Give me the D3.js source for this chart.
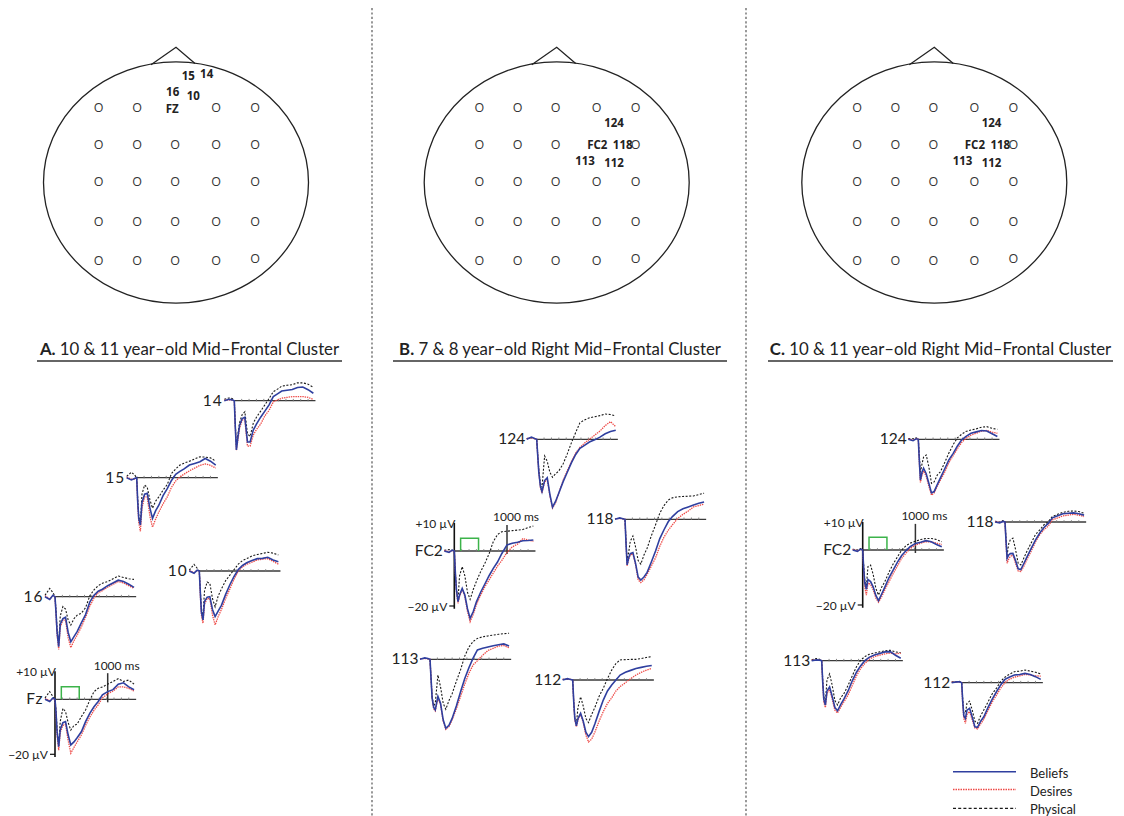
<!DOCTYPE html>
<html>
<head>
<meta charset="utf-8">
<script src="https://cdn.jsdelivr.net/npm/d3@7"></script>
<style>
  html, body { margin: 0; padding: 0; background: #fff; }
  svg { display: block; }
</style>
</head>
<body>
<svg id="fig" width="1124" height="816"></svg>
<script>
// ---------------------------------------------------------------
// ERP data: grand-average amplitudes (µV) at these sample times (ms)
// ---------------------------------------------------------------
const timesMs = [-190, -100, -40, 0, 20, 40, 70, 100, 150, 200, 250, 300, 360, 420,
                 500, 580, 660, 740, 820, 900, 1000, 1100, 1200, 1300, 1400, 1500];

const conditions = ["Beliefs", "Desires", "Physical"];
const panelLetters = ["A.", "B.", "C."];
const panelTitles = ["10 & 11 year–old Mid–Frontal Cluster",
                     "7 & 8 year–old Right Mid–Frontal Cluster",
                     "10 & 11 year–old Right Mid–Frontal Cluster"];
const panelAElectrodes = ["14", "15", "16", "10", "Fz"];
const panelBElectrodes = ["124", "118", "FC2", "113", "112"];
const panelCElectrodes = ["124", "118", "FC2", "113", "112"];
const headLabelsA = ["15", "14", "16", "10", "FZ"];
const headLabelsBC = ["124", "FC2", "118", "113", "112"];
const axisLabels = ["+10 µV", "−20 µV", "1000 ms"];

// Panel A — 10 & 11 year-olds, mid-frontal
const a14Beliefs  = [0, 0.5, 0.3, 0, -10, -17.9, -13, -9, -6.5, -6, -15, -15, -10.7, -8.5, -6, -3.8, -1.5, 1.5, 2.5, 3.5, 3.8, 4.1, 4.8, 5, 4, 2.7];
const a14Desires  = [0.2, 0.3, 0.2, 0, -10, -18, -14, -10, -7, -7, -16.5, -16.5, -12.5, -10.5, -8.5, -5.5, -3.5, -0.4, 0.3, 0.9, 1.2, 1.5, 1.5, 1.5, 1.2, 0.5];
const a14Physical = [0.5, 1, 0.8, 0, -9, -17, -12, -8, -5, -4, -12, -13, -8.2, -6, -3.8, -1.5, 0.8, 3.3, 4.2, 5.3, 5.6, 5.8, 6.5, 6.5, 6, 4.9];

const a15Beliefs  = [0, -0.8, -0.3, 0, -9, -15, -17.2, -9, -6, -5.7, -11, -14.8, -12, -10, -6.5, -4, -1, 1.2, 2.3, 3.2, 4.6, 5.2, 5.8, 7, 6, 4.6];
const a15Desires  = [0.2, -0.5, -0.5, 0, -10, -16.5, -19.5, -11, -7, -7, -14, -18, -15, -12.5, -9.5, -7, -3.5, -1.2, 0.3, 1.3, 2.5, 3.5, 4.5, 5, 4.5, 3.5];
const a15Physical = [0.5, 2, 1, 0, -8, -14, -17, -6, -2.7, -3.5, -8, -11.1, -8.5, -7, -4.5, -2.5, 1.5, 3.2, 4.6, 5.3, 6, 6.8, 7.6, 7.5, 7.2, 6];

const a16Beliefs  = [0, -1, 0.5, 0, -6, -13, -18.2, -10, -8, -7.5, -13, -16.4, -14.5, -12.7, -9.5, -6.5, -2, 0.5, 2, 2.7, 4, 5, 6, 5.5, 4.5, 3.4];
const a16Desires  = [0.3, -0.8, 0.3, 0, -7, -14, -19.2, -11, -8.5, -8.5, -15, -18.5, -16, -14, -11, -7.5, -3.5, -0.5, 1.5, 2.2, 3.5, 4.5, 5.5, 5, 4, 3];
const a16Physical = [0.5, 3, 1.5, 0, -5, -12, -17, -7, -3.6, -4.5, -8.5, -10.3, -8, -6.7, -6, -4, 0.3, 2.5, 4, 4.9, 5.5, 6.5, 7.5, 7, 6.5, 6.3];

const a10Beliefs  = [0, -0.8, 0.3, 0, -8, -15, -17.8, -11, -9.5, -9.3, -14, -16.6, -14.5, -12.5, -8.5, -5, -2, 0.5, 2, 3, 3.8, 4.5, 4.6, 5, 4, 3.4];
const a10Desires  = [0.2, -0.6, 0.2, 0, -9, -16, -19, -12, -10, -10, -16, -19.6, -16.5, -14, -10, -6.5, -3, 0, 1.5, 2.5, 3.2, 4, 4.3, 4.5, 3.5, 2.5];
const a10Physical = [0.3, 2.4, 1, 0, -7, -14, -16, -7, -4, -4.5, -10, -13, -9, -6.5, -3.5, -1.5, 0.5, 2.5, 3.8, 4.5, 5.5, 6, 6.4, 6.8, 6.5, 5.8];

const aFzBeliefs  = [0, -0.8, 0.5, 0, -5, -12, -17.2, -11, -8.5, -8.1, -13, -16.6, -15.5, -14, -11.8, -8.1, -5.1, -2.7, -0.8, 1.6, 2.8, 3.5, 5.5, 6, 4.5, 3.5];
const aFzDesires  = [0.3, -0.5, 0.3, 0, -6, -13, -18.5, -12, -9.5, -9, -15, -19.6, -17.5, -15.5, -13, -9.5, -6.5, -4, -2, 0.5, 2, 3, 4.5, 4.5, 4, 3];
const aFzPhysical = [0.5, 2.8, 1, 0, -4, -11, -16.5, -8, -3.3, -4.5, -8.5, -11.2, -9.5, -9, -6.3, -3.9, -0.3, 2.8, 4, 4.5, 5.5, 6.5, 7.5, 6.5, 7, 5.5];

// Panel B — 7 & 8 year-olds, right mid-frontal
const b124Beliefs  = [0, 0.8, 0.3, 0, -6, -12, -17, -19, -15, -14, -20, -24.7, -22.5, -19.5, -15.5, -12, -8.5, -5.5, -3.3, -2.3, -1, -0.2, 0.8, 2, 2.8, 3.3];
const b124Desires  = [0.2, 0.5, 0.2, 0, -6, -12, -17.5, -19.5, -15.5, -14.5, -20.5, -25, -23, -19.5, -15, -11.5, -8, -5, -3, -1.5, 0, 1.5, 3, 5, 6.4, 4.6];
const b124Physical = [0.3, 0.5, 0.3, 0, -6, -11, -16, -17.5, -6.1, -8, -12, -13.8, -12.5, -11.5, -9, -5.3, -1.2, 2.5, 6, 7, 7.8, 8.2, 8.6, 9.2, 9, 8.5];

const b118Beliefs  = [0, 0.5, 0.2, 0, -9, -16.6, -14, -12.5, -12.1, -16, -21, -22.1, -21, -19.3, -15.5, -11.5, -7, -3.8, -0.9, 1, 2.8, 3.8, 4.5, 5.2, 5.8, 6.3];
const b118Desires  = [0.2, 0.3, 0.2, 0, -9, -17, -14.5, -13, -12.5, -16.5, -22, -23, -22, -20, -17, -14, -9.8, -6.5, -4, -2, 0.3, 1.8, 3, 4.5, 5, 5.5];
const b118Physical = [0.3, 0.3, 0.2, 0, -8, -15, -12, -8, -6.1, -10, -15, -16.3, -13, -10.5, -6, -2, 2.2, 5, 7, 7.8, 8.2, 8.3, 8.4, 8.5, 9, 9.5];

const bFc2Beliefs  = [0, -0.5, 0.3, 0, -8, -14, -18.4, -16, -13.6, -16, -21, -24.5, -22, -18.5, -15, -12, -9, -6.3, -4, -1, 2.2, 2.8, 3.2, 3.7, 3.8, 4];
const bFc2Desires  = [0.2, -0.3, 0.2, 0, -8, -14.5, -19, -16.5, -14, -16.5, -22, -25.7, -23, -19.5, -16, -13, -10.5, -8, -5.5, -3.5, -0.5, 1.5, 2.5, 4.5, 4, 3.5];
const bFc2Physical = [0.3, 0.5, 0.3, 0, -8, -14, -17.8, -9, -5.7, -9, -15, -17.6, -14, -11, -7.5, -4.5, -1, 3.4, 6, 7, 7.2, 7.4, 7.6, 7.8, 8.5, 9.1];

const b113Beliefs  = [0, 0.5, 0.3, 0, -7, -14, -17.5, -18.4, -13.5, -16, -22, -25.1, -24, -21.5, -17, -11.8, -7, -3, 0.5, 3.4, 4, 4.5, 4.9, 5.3, 5.6, 4.8];
const b113Desires  = [0.2, 0.3, 0.2, 0, -7, -14, -18, -18.8, -14, -16.5, -22.5, -25.5, -24.5, -22, -18, -13.5, -9, -5, -2, -0.5, 1.5, 3.2, 4, 4.8, 5, 4.2];
const b113Physical = [0.3, 0.3, 0.2, 0, -7, -13.5, -17, -16, -5.7, -10, -16, -18.2, -15, -12.5, -8, -3.8, 1.2, 4.5, 6.5, 7.6, 8.2, 8.5, 8.8, 9.1, 9.3, 9.5];

const b112Beliefs  = [0, 0.5, 0.2, 0, -8, -14, -16.7, -14, -12.1, -15, -19, -20.6, -19, -16, -11.5, -7.3, -4, -1.8, 0, 1.8, 2.8, 3.5, 4.2, 4.6, 5, 5.3];
const b112Desires  = [0.2, 0.3, 0.2, 0, -8, -14.5, -17, -14.5, -12.5, -15.5, -20, -22.5, -21.5, -19, -15, -11.5, -8.5, -6.5, -4, -2.4, -1, 0.5, 1.8, 2.8, 3.6, 4.2];
const b112Physical = [0.3, 0.3, 0.2, 0, -8, -14, -16, -10, -6.1, -9.5, -14, -15.5, -12.5, -10, -6, -3, 0.5, 3.6, 6, 7.3, 7.4, 7.5, 7.5, 7.8, 8.2, 8.5];

// Panel C — 10 & 11 year-olds, right mid-frontal
const c124Beliefs  = [0, -0.5, 0.2, 0, -8, -14.8, -12, -10.5, -12.5, -16, -19.5, -19, -16.5, -14, -10.8, -7.5, -5.2, -2.5, -0.3, 1, 2.2, 2.7, 3.2, 3, 2, 1];
const c124Desires  = [0.2, -0.3, 0.2, 0, -8.5, -15.7, -13, -11.5, -13.5, -17, -20.3, -19.5, -17, -14.8, -12, -8.5, -6, -3.5, -1.2, 0.3, 1.5, 2.2, 3, 3.2, 2.6, 2.2];
const c124Physical = [0.3, 0.2, 0.5, 0, -6, -12, -9, -6.5, -5.7, -10, -16, -15.5, -13, -11.8, -8.5, -5, -2, 0.5, 1.8, 2.8, 3.4, 3.8, 4.4, 4.6, 4, 3.6];

const c118Beliefs  = [0, -0.3, 0.2, 0, -7, -13.2, -12, -11.5, -11.4, -14, -17, -17.3, -15, -12.6, -9.5, -6.5, -4, -2, -0.5, 1.5, 2.3, 3, 3.2, 3.3, 3, 2.5];
const c118Desires  = [0.2, -0.2, 0.2, 0, -8, -15, -13.5, -12.5, -12, -15, -17.8, -18, -16, -13.5, -10.5, -7.2, -4.6, -2.8, -1.5, 0.8, 1.5, 2.2, 2.5, 2.8, 2.5, 2];
const c118Physical = [0.3, 0, 0.5, 0, -6, -12, -8, -6.5, -5.9, -10, -15, -15.6, -13, -10.5, -7.5, -4.5, -2.9, -1, 0.1, 2, 2.8, 3.5, 3.9, 4, 3.8, 3.2];

const cFc2Beliefs  = [0, -0.5, 0.3, 0, -7, -12, -14.3, -10.7, -11.5, -13.5, -16.5, -18.4, -16, -13.5, -10, -7.2, -4.4, -2, -0.3, 1.2, 2.4, 2.8, 3.4, 3, 2, 1.2];
const cFc2Desires  = [0.2, -0.3, 0.2, 0, -8, -13.5, -16.4, -12, -12.5, -14.5, -17.5, -19, -17, -14.5, -11.5, -8.5, -5.8, -3, -1.2, 0.5, 1.8, 2.5, 3, 3, 2.5, 2];
const cFc2Physical = [0.3, 0, 0.5, 0, -6, -11, -13, -6, -5.5, -9, -14, -16.4, -13.5, -11.5, -8, -5, -2.5, 0, 1.5, 2.5, 3.2, 3.8, 4.2, 4.2, 3.8, 3];

const c113Beliefs  = [0, 0.3, 0.2, 0, -8, -14, -16.1, -11, -9.5, -13, -17, -18.2, -16, -14, -11, -7.3, -4.2, -1.8, 0, 1.2, 2.1, 2.6, 3.2, 3.3, 2, 0.9];
const c113Desires  = [0.2, 0.2, 0.2, 0, -8.5, -15, -17, -12, -10.5, -14, -18, -19, -17, -15, -12.5, -9, -5.5, -2.8, -1, 0.5, 1.5, 2, 2.5, 2.8, 2.5, 2.7];
const c113Physical = [0.3, 0.8, 0.5, 0, -7, -13, -15, -7, -4.8, -9, -14.5, -16.1, -13.5, -12, -9, -5.5, -2.2, 0.2, 1.5, 2.3, 2.8, 3.2, 3.6, 3.8, 3.2, 2.9];

const c112Beliefs  = [0, 0.3, 0.3, 0, -7, -12, -13, -10, -9.3, -12.5, -16, -16.2, -14, -12.4, -9, -6, -3.3, -0.8, 1.2, 2, 2.8, 3, 3.4, 3, 2.2, 1.2];
const c112Desires  = [0.2, 0.2, 0.2, 0, -8, -13, -14.8, -11.5, -10.5, -13.5, -16.5, -16.8, -15, -13.3, -10, -7, -4.5, -2, 0, 1.2, 2, 2.5, 3, 2.8, 2.5, 2.4];
const c112Physical = [0.3, 0.3, 0.5, 0, -6, -11, -11, -7.5, -6.7, -10, -14, -14.8, -12, -9.9, -7, -4, -2, 0.5, 2, 3, 4, 4.2, 4.6, 4.2, 3.8, 3.2];

// Stimulus presentation window (ms) and its marker height (µV)
const stimulusWindow = [120, 460];
const stimulusLevel = 4.6;
const markerTime = 1000;

// ---------------------------------------------------------------
// Layout
// ---------------------------------------------------------------
const svg = d3.select("#fig");
const FONT = "Lato, 'Open Sans', sans-serif";
const BOLD_NARROW = "'Liberation Sans Narrow', 'Open Sans', sans-serif";
const PX_PER_MS = 0.0527;
const PX_PER_UV = 2.75;
const EPOCH_END = 1540;

const colors = { Beliefs: "#2f3f9f", Desires: "#ee4a47", Physical: "#1a1a1a" };

// series lookup: [beliefs, desires, physical]
const series = {
  "0-14":  [a14Beliefs, a14Desires, a14Physical],
  "0-15":  [a15Beliefs, a15Desires, a15Physical],
  "0-16":  [a16Beliefs, a16Desires, a16Physical],
  "0-10":  [a10Beliefs, a10Desires, a10Physical],
  "0-Fz":  [aFzBeliefs, aFzDesires, aFzPhysical],
  "1-124": [b124Beliefs, b124Desires, b124Physical],
  "1-118": [b118Beliefs, b118Desires, b118Physical],
  "1-FC2": [bFc2Beliefs, bFc2Desires, bFc2Physical],
  "1-113": [b113Beliefs, b113Desires, b113Physical],
  "1-112": [b112Beliefs, b112Desires, b112Physical],
  "2-124": [c124Beliefs, c124Desires, c124Physical],
  "2-118": [c118Beliefs, c118Desires, c118Physical],
  "2-FC2": [cFc2Beliefs, cFc2Desires, cFc2Physical],
  "2-113": [c113Beliefs, c113Desires, c113Physical],
  "2-112": [c112Beliefs, c112Desires, c112Physical]
};

// onset x and baseline y of each small waveform plot
const plotPlacement = [
  { x: 234.3, y: 400.7 }, { x: 136.7, y: 477.7 }, { x: 55, y: 596.7 }, { x: 199.3, y: 571 }, { x: 55, y: 699.3 },
  { x: 536.7, y: 439.3 }, { x: 625, y: 519.3 }, { x: 454.3, y: 551 }, { x: 430, y: 659.3 }, { x: 572.7, y: 680 },
  { x: 918.3, y: 439.3 }, { x: 1005, y: 522 }, { x: 862.7, y: 550 }, { x: 821.7, y: 660.7 }, { x: 961.7, y: 682.7 }
];
const electrodeLists = [panelAElectrodes, panelBElectrodes, panelCElectrodes];

// ---------------------------------------------------------------
// Column separators
// ---------------------------------------------------------------
[372, 746].forEach(x => {
  svg.append("line")
    .attr("x1", x).attr("x2", x).attr("y1", 8).attr("y2", 816)
    .attr("stroke", "#555").attr("stroke-width", 1.2)
    .attr("stroke-dasharray", "2.2,2.2");
});

// ---------------------------------------------------------------
// Scalp maps
// ---------------------------------------------------------------
const headCenters = [176, 556.7, 934.3];
const gridCols = [-77.3, -39, -1, 40, 79];
const gridRows = [107.7, 144, 181.7, 221.7, 260];
const labelOffsetsA = [[12.3, 75], [30.7, 73.3], [-3.3, 91], [17.3, 95.7], [-3.7, 108.3]];
const labelOffsetsBC = [[57.3, 122.7], [40.6, 144], [66, 144], [28.3, 160], [57.3, 162.3]];

headCenters.forEach((cx, p) => {
  const g = svg.append("g");
  g.append("ellipse")
    .attr("cx", cx).attr("cy", 182.5).attr("rx", 132.5).attr("ry", 120.6)
    .attr("fill", "none").attr("stroke", "#222").attr("stroke-width", 1.3);
  g.append("polyline")
    .attr("points", `${cx - 25},64.8 ${cx},47.3 ${cx + 19},63.6`)
    .attr("fill", "none").attr("stroke", "#222").attr("stroke-width", 1.3);

  const skip = p === 0 ? [0, 2] : [1, 3];
  gridRows.forEach((ry, r) => {
    gridCols.forEach((dx, c) => {
      if (r === skip[0] && c === skip[1]) return;
      g.append("text")
        .attr("x", cx + dx).attr("y", ry + (r === 4 && c === 4 ? -2 : 0))
        .attr("text-anchor", "middle").attr("dominant-baseline", "central")
        .attr("font-family", "'Open Sans', sans-serif").attr("font-size", 12.5).attr("fill", "#333")
        .text("O");
    });
  });

  const names = p === 0 ? headLabelsA : headLabelsBC;
  const offs = p === 0 ? labelOffsetsA : labelOffsetsBC;
  names.forEach((n, i) => {
    g.append("text")
      .attr("x", cx + offs[i][0]).attr("y", offs[i][1])
      .attr("text-anchor", "middle").attr("dominant-baseline", "central")
      .attr("font-family", BOLD_NARROW).attr("font-weight", "bold")
      .attr("font-size", 11.5).attr("fill", "#222")
      .text(n);
  });
});

// ---------------------------------------------------------------
// Panel titles
// ---------------------------------------------------------------
const titleSpans = [[37, 342], [393, 727], [768, 1113]];
titleSpans.forEach((span, p) => {
  const cx = (span[0] + span[1]) / 2;
  const t = svg.append("text")
    .attr("x", cx).attr("y", 355)
    .attr("text-anchor", "middle")
    .attr("font-family", FONT).attr("font-size", 16.8).attr("fill", "#222");
  t.append("tspan").attr("font-weight", "bold").text(panelLetters[p]);
  t.append("tspan").text(" " + panelTitles[p]);
  svg.append("line")
    .attr("x1", span[0]).attr("x2", span[1]).attr("y1", 361).attr("y2", 361)
    .attr("stroke", "#333").attr("stroke-width", 1.3);
});

// ---------------------------------------------------------------
// Waveform plots
// ---------------------------------------------------------------
let idx = 0;
electrodeLists.forEach((list, p) => {
  list.forEach(name => {
    const place = plotPlacement[idx++];
    const x = d3.scaleLinear().domain([0, 1000]).range([place.x, place.x + 1000 * PX_PER_MS]);
    const y = d3.scaleLinear().domain([0, 10]).range([place.y, place.y - 10 * PX_PER_UV]);
    const g = svg.append("g");
    const withAxes = (name === "Fz" || name === "FC2");

    // baseline with small time ticks
    g.append("line")
      .attr("x1", x(0)).attr("x2", x(EPOCH_END)).attr("y1", y(0)).attr("y2", y(0))
      .attr("stroke", "#3a3a3a").attr("stroke-width", 1.3);
    g.selectAll(null).data(d3.range(140, EPOCH_END, 140)).enter().append("line")
      .attr("x1", d => x(d)).attr("x2", d => x(d))
      .attr("y1", y(0) - 1.8).attr("y2", y(0) + 0.6)
      .attr("stroke", "#777").attr("stroke-width", 0.9);

    if (withAxes) {
      // stimulus window
      g.append("path")
        .attr("d", `M${x(stimulusWindow[0])},${y(0)} V${y(stimulusLevel)} H${x(stimulusWindow[1])} V${y(0)}`)
        .attr("fill", "none").attr("stroke", "#3cb34a").attr("stroke-width", 1.5);
      // amplitude axis
      g.append("line")
        .attr("x1", x(0)).attr("x2", x(0)).attr("y1", y(10.2)).attr("y2", y(-21))
        .attr("stroke", "#111").attr("stroke-width", 1.6);
      g.append("line")
        .attr("x1", x(0) - 5).attr("x2", x(0)).attr("y1", y(-20)).attr("y2", y(-20))
        .attr("stroke", "#111").attr("stroke-width", 1.2);
      g.append("text")
        .attr("x", x(0) + 1).attr("y", y(10)).attr("text-anchor", "end")
        .attr("dominant-baseline", "central")
        .attr("font-family", FONT).attr("font-size", 12).attr("fill", "#222")
        .text(axisLabels[0]);
      g.append("text")
        .attr("x", x(0) - 7).attr("y", y(-20)).attr("text-anchor", "end")
        .attr("dominant-baseline", "central")
        .attr("font-family", FONT).attr("font-size", 12).attr("fill", "#222")
        .text(axisLabels[1]);
      // 1000 ms marker
      g.append("line")
        .attr("x1", x(markerTime)).attr("x2", x(markerTime))
        .attr("y1", y(9.5)).attr("y2", y(-1.1))
        .attr("stroke", "#333").attr("stroke-width", 1.5);
      g.append("text")
        .attr("x", x(markerTime) - 14).attr("y", y(12.4))
        .attr("dominant-baseline", "central")
        .attr("font-family", FONT).attr("font-size", 12).attr("fill", "#222")
        .text(axisLabels[2]);
    }

    // electrode name
    g.append("text")
      .attr("x", x(-200) - 1).attr("y", y(0.4))
      .attr("text-anchor", "end").attr("dominant-baseline", "central")
      .attr("font-family", FONT).attr("font-size", 15.5).attr("fill", "#222")
      .attr("letter-spacing", name.length === 2 ? 1 : 0)
      .text(name);

    const line = d3.line().x((d, i) => x(timesMs[i])).y(d => y(d));
    const [bel, des, phy] = series[p + "-" + name];
    g.append("path").datum(phy).attr("d", line)
      .attr("fill", "none").attr("stroke", colors.Physical).attr("stroke-width", 1.1)
      .attr("stroke-dasharray", "2,1.6");
    g.append("path").datum(des).attr("d", line)
      .attr("fill", "none").attr("stroke", colors.Desires).attr("stroke-width", 1.3)
      .attr("stroke-dasharray", "1.4,0.9");
    g.append("path").datum(bel).attr("d", line)
      .attr("fill", "none").attr("stroke", colors.Beliefs).attr("stroke-width", 1.6);
  });
});

// ---------------------------------------------------------------
// Legend
// ---------------------------------------------------------------
const legendRows = [
  { name: conditions[0], y: 771.7, dash: null, w: 1.6 },
  { name: conditions[1], y: 789.5, dash: "1.5,1", w: 1.4 },
  { name: conditions[2], y: 808.3, dash: "3,2.2", w: 1.2 }
];
legendRows.forEach(r => {
  svg.append("line")
    .attr("x1", 953).attr("x2", 1016).attr("y1", r.y).attr("y2", r.y)
    .attr("stroke", colors[r.name]).attr("stroke-width", r.w)
    .attr("stroke-dasharray", r.dash);
  svg.append("text")
    .attr("x", 1030).attr("y", r.y + 1).attr("dominant-baseline", "central")
    .attr("font-family", FONT).attr("font-size", 13).attr("fill", "#222")
    .text(r.name);
});
</script>
</body>
</html>
